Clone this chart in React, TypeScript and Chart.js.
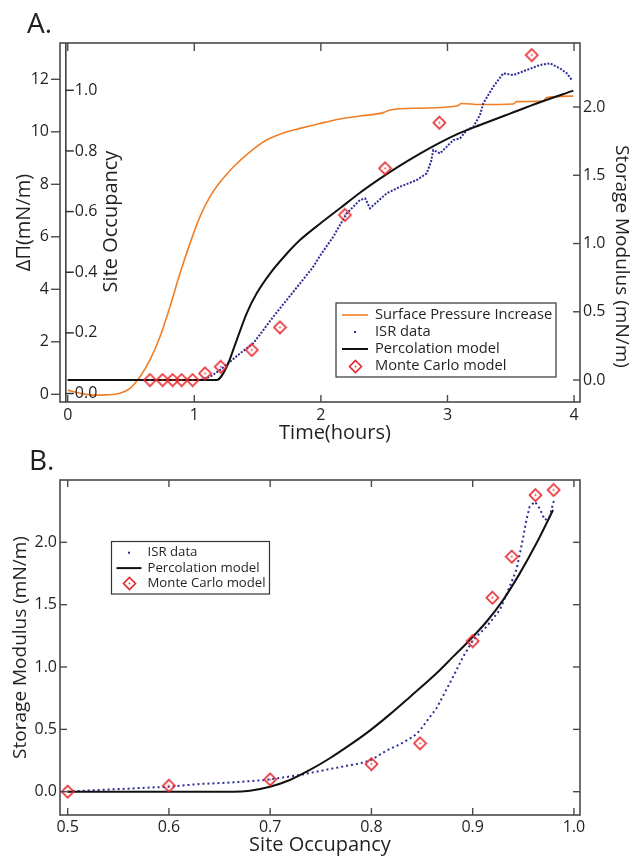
import React, { useEffect, useRef } from "react";
import { Chart, registerables } from "chart.js";
Chart.register(...registerables);

const FONT = "'Open Sans', 'DejaVu Sans', sans-serif";
const TEXT = "#231F20";

// ---------- Panel A data ----------
const timeTicks = [0, 1, 2, 3, 4];
const pressureTicks = [0, 2, 4, 6, 8, 10, 12];
const occupancyTicksA = [0, 0.2, 0.4, 0.6, 0.8, 1.0];
const modulusTicks = [0, 0.5, 1.0, 1.5, 2.0];

const pressureTime = [0, 0.1, 0.2, 0.3, 0.413, 0.492, 0.571, 0.65, 0.729, 0.808, 0.887, 0.966, 1.045, 1.124, 1.19, 1.31, 1.44, 1.57, 1.7, 1.835, 1.993, 2.151, 2.309, 2.493, 2.546, 2.783, 3.073, 3.112, 3.257, 3.52, 3.547, 3.757, 3.784, 3.994];
const pressureValue = [0.16, 0.04, -0.03, -0.02, 0.04, 0.23, 0.67, 1.31, 2.19, 3.34, 4.61, 5.75, 6.77, 7.53, 8.0, 8.67, 9.24, 9.69, 9.95, 10.13, 10.32, 10.49, 10.6, 10.73, 10.83, 10.9, 10.98, 11.08, 11.04, 11.06, 11.15, 11.17, 11.31, 11.36];

const isrTime = [0, 0.5, 1.047, 1.125, 1.203, 1.282, 1.361, 1.466, 1.545, 1.624, 1.73, 1.835, 1.94, 1.993, 2.098, 2.204, 2.309, 2.35, 2.388, 2.45, 2.52, 2.625, 2.757, 2.836, 2.87, 2.888, 2.941, 3.046, 3.099, 3.152, 3.204, 3.257, 3.283, 3.362, 3.441, 3.52, 3.626, 3.731, 3.81, 3.889, 3.942, 3.982];
const isrModulusA = [0, 0, 0, 0.024, 0.073, 0.134, 0.195, 0.269, 0.366, 0.464, 0.586, 0.708, 0.83, 0.91, 1.05, 1.221, 1.319, 1.33, 1.258, 1.31, 1.368, 1.416, 1.465, 1.514, 1.6, 1.685, 1.66, 1.758, 1.77, 1.83, 1.856, 1.941, 2.027, 2.149, 2.247, 2.234, 2.271, 2.308, 2.32, 2.283, 2.247, 2.198];

const percTime = [0, 1.177, 1.256, 1.335, 1.414, 1.493, 1.598, 1.73, 1.835, 1.993, 2.151, 2.309, 2.467, 2.625, 2.783, 2.941, 3.099, 3.257, 3.494, 3.731, 3.994];
const percModulusA = [0, 0, 0.097, 0.293, 0.489, 0.635, 0.78, 0.925, 1.025, 1.145, 1.258, 1.372, 1.475, 1.57, 1.658, 1.739, 1.81, 1.868, 1.952, 2.035, 2.12];

const mcTime = [0.65, 0.75, 0.829, 0.9, 0.987, 1.085, 1.209, 1.454, 1.677, 2.19, 2.507, 2.936, 3.666];
const mcModulusA = [0, 0, 0, 0, 0, 0.049, 0.097, 0.22, 0.386, 1.209, 1.551, 1.885, 2.381];

// ---------- Panel B data ----------
const occTicksB = [0.5, 0.6, 0.7, 0.8, 0.9, 1.0];
const modulusTicksB = [0, 0.5, 1.0, 1.5, 2.0];

const isrOcc = [0.5, 0.509, 0.545, 0.6, 0.6306, 0.645, 0.6635, 0.6964, 0.7293, 0.7622, 0.7886, 0.8, 0.8149, 0.8281, 0.8412, 0.8478, 0.8577, 0.8643, 0.8807, 0.8906, 0.9004, 0.9136, 0.9268, 0.9366, 0.9432, 0.9481, 0.9531, 0.9563, 0.9614, 0.9662, 0.9712, 0.9761, 0.9794, 0.981];
const isrModulusB = [0, 0.005, 0.019, 0.04, 0.062, 0.067, 0.075, 0.094, 0.134, 0.187, 0.227, 0.255, 0.33, 0.38, 0.44, 0.49, 0.6, 0.669, 0.922, 1.083, 1.217, 1.323, 1.457, 1.646, 1.78, 1.966, 2.18, 2.287, 2.326, 2.272, 2.179, 2.206, 2.313, 2.35];

const percOcc = [0.5, 0.6306, 0.6635, 0.68, 0.6997, 0.7195, 0.7392, 0.7589, 0.7787, 0.7984, 0.8182, 0.838, 0.8643, 0.8807, 0.8972, 0.9136, 0.93, 0.9465, 0.963, 0.9794];
const percModulusB = [0, 0, 0, 0.008, 0.04, 0.094, 0.174, 0.268, 0.375, 0.49, 0.62, 0.76, 0.95, 1.083, 1.217, 1.363, 1.537, 1.751, 1.992, 2.259];

const mcOcc = [0.5, 0.6, 0.7, 0.8, 0.848, 0.9, 0.9195, 0.9386, 0.962, 0.98];
const mcModulusB = [0, 0.048, 0.099, 0.222, 0.388, 1.208, 1.556, 1.885, 2.379, 2.42];

// ---------- helpers ----------
const pts = (xs: number[], ys: number[]) => xs.map((x, i) => ({ x, y: ys[i] }));
const setTicks = (arr: number[]) => (s: any) => {
  s.ticks = arr.map((v) => ({ value: v }));
};
const fixWidth = (w: number) => (s: any) => {
  s.width = w;
};
const fixHeight = (h: number) => (s: any) => {
  s.height = h;
};

const ORANGE = "#F07E26";
const NAVY = "#2D2E94";
const RED = "#E4252A";
const BLACK = "#111111";
const FRAME = "#4a4a4a";

// hollow diamond with a small centre dot, used as point style
function diamondMarker(): HTMLCanvasElement {
  const c = document.createElement("canvas");
  c.width = 15;
  c.height = 15;
  const g = c.getContext("2d")!;
  const m = 7.5;
  const r = 6;
  g.strokeStyle = RED;
  g.lineWidth = 1.6;
  g.beginPath();
  g.moveTo(m, m - r);
  g.lineTo(m + r, m);
  g.lineTo(m, m + r);
  g.lineTo(m - r, m);
  g.closePath();
  g.stroke();
  g.fillStyle = RED;
  g.fillRect(m - 0.8, m - 0.8, 1.6, 1.6);
  return c;
}

const decorPlugin = {
  id: "decor",
  afterDraw(chart: any, _args: any, opts: any) {
    const ctx = chart.ctx as CanvasRenderingContext2D;
    const ca = chart.chartArea;
    ctx.save();
    // frame
    ctx.strokeStyle = FRAME;
    ctx.lineWidth = 1.6;
    ctx.strokeRect(ca.left, ca.top, ca.right - ca.left, ca.bottom - ca.top);
    // tick marks
    ctx.lineWidth = 1.4;
    for (const t of opts.tickMarks || []) {
      const s = chart.scales[t.scale];
      for (const v of t.values) {
        const p = s.getPixelForValue(v);
        ctx.beginPath();
        if (t.edge === "bottom") {
          ctx.moveTo(p, ca.bottom);
          ctx.lineTo(p, ca.bottom - t.len);
        } else if (t.edge === "top") {
          ctx.moveTo(p, ca.top);
          ctx.lineTo(p, ca.top + t.len);
        } else if (t.edge === "left") {
          ctx.moveTo(ca.left, p);
          ctx.lineTo(ca.left + t.len, p);
        } else {
          ctx.moveTo(ca.right, p);
          ctx.lineTo(ca.right - t.len, p);
        }
        ctx.stroke();
      }
    }
    // inner axis (site occupancy in panel A)
    const ia = opts.innerAxis;
    if (ia) {
      const xs = chart.scales[ia.xScale];
      const ys = chart.scales[ia.scale];
      const x = xs.getPixelForValue(ia.at);
      ctx.strokeStyle = "#333";
      ctx.lineWidth = 1.5;
      ctx.beginPath();
      ctx.moveTo(x, ca.top);
      ctx.lineTo(x, ca.bottom);
      ctx.stroke();
      ctx.font = `${ia.fontSize}px ${FONT}`;
      ctx.fillStyle = TEXT;
      ctx.textAlign = "left";
      ctx.textBaseline = "middle";
      for (const v of ia.values) {
        const y = ys.getPixelForValue(v);
        ctx.beginPath();
        ctx.moveTo(x, y);
        ctx.lineTo(x + ia.tickLen, y);
        ctx.stroke();
        ctx.fillText(v.toFixed(1), x + ia.tickLen + 1, y);
      }
    }
    // texts
    for (const tx of opts.texts || []) {
      ctx.save();
      ctx.translate(tx.x, tx.y);
      ctx.rotate(tx.rot || 0);
      ctx.font = `${tx.size}px ${FONT}`;
      ctx.fillStyle = TEXT;
      ctx.textAlign = tx.align || "center";
      ctx.textBaseline = tx.baseline || "middle";
      ctx.fillText(tx.text, 0, 0);
      ctx.restore();
    }
    // legend
    const lg = opts.legend;
    if (lg) {
      ctx.fillStyle = "#ffffff";
      ctx.fillRect(lg.x, lg.y, lg.w, lg.h);
      ctx.strokeStyle = "#333";
      ctx.lineWidth = 1.2;
      ctx.strokeRect(lg.x, lg.y, lg.w, lg.h);
      ctx.font = `${lg.fontSize}px ${FONT}`;
      ctx.textAlign = "left";
      ctx.textBaseline = "middle";
      chart.data.datasets.forEach((ds: any, i: number) => {
        const y = lg.rowY + i * lg.rowStep;
        const xm = (lg.sx1 + lg.sx2) / 2;
        if (ds.pointStyle instanceof HTMLCanvasElement) {
          const img = ds.pointStyle as HTMLCanvasElement;
          ctx.drawImage(img, Math.round(xm - img.width / 2), Math.round(y - img.height / 2));
        } else if (ds.borderDash) {
          ctx.fillStyle = ds.borderColor;
          ctx.fillRect(xm - 1, y - 1, 2, 2);
        } else {
          ctx.strokeStyle = ds.borderColor;
          ctx.lineWidth = ds.borderWidth;
          ctx.beginPath();
          ctx.moveTo(lg.sx1, y);
          ctx.lineTo(lg.sx2, y);
          ctx.stroke();
        }
        ctx.fillStyle = TEXT;
        ctx.fillText(ds.label, lg.tx, y);
      });
    }
    ctx.restore();
  },
};

const tickFont = { family: FONT, size: 16 };

function configA(): any {
  return {
    type: "scatter",
    data: {
      datasets: [
        {
          label: "Surface Pressure Increase",
          data: pts(pressureTime, pressureValue),
          yAxisID: "dp",
          showLine: true,
          borderColor: ORANGE,
          backgroundColor: ORANGE,
          borderWidth: 1.6,
          pointRadius: 0,
          cubicInterpolationMode: "monotone",
          order: 3,
        },
        {
          label: "ISR data",
          data: pts(isrTime, isrModulusA),
          yAxisID: "sm",
          showLine: true,
          borderColor: NAVY,
          backgroundColor: NAVY,
          borderWidth: 2,
          borderDash: [2, 1.5],
          pointRadius: 0,
          order: 2,
        },
        {
          label: "Percolation model",
          data: pts(percTime, percModulusA),
          yAxisID: "sm",
          showLine: true,
          borderColor: BLACK,
          backgroundColor: BLACK,
          borderWidth: 2,
          pointRadius: 0,
          cubicInterpolationMode: "monotone",
          order: 1,
        },
        {
          label: "Monte Carlo model",
          data: pts(mcTime, mcModulusA),
          yAxisID: "sm",
          showLine: false,
          pointStyle: diamondMarker(),
          pointRadius: 6,
          borderColor: RED,
          backgroundColor: "rgba(0,0,0,0)",
          order: 0,
        },
      ],
    },
    options: {
      responsive: false,
      animation: false,
      devicePixelRatio: 1,
      events: [],
      layout: { padding: { left: 0, top: 43, right: 0, bottom: 0 } },
      plugins: {
        legend: { display: false },
        title: { display: false },
        tooltip: { enabled: false },
        decor: {
          tickMarks: [
            { scale: "x", edge: "bottom", len: 7, values: timeTicks },
            { scale: "x", edge: "top", len: 8, values: timeTicks },
            { scale: "dp", edge: "left", len: -9, values: pressureTicks },
            { scale: "sm", edge: "right", len: 7, values: modulusTicks },
          ],
          innerAxis: { xScale: "x", at: -0.015, scale: "occ", values: occupancyTicksA, tickLen: 8, fontSize: 16 },
          texts: [
            { text: "A.", x: 27, y: 33, size: 28, align: "left", baseline: "alphabetic" },
            { text: "Time(hours)", x: 335, y: 433, size: 20 },
            { text: "Site Occupancy", x: 111.5, y: 221.5, size: 20, rot: -Math.PI / 2 },
            { text: "Storage Modulus (mN/m)", x: 621, y: 256.5, size: 19, rot: Math.PI / 2 },
          ],
          legend: { x: 336, y: 303, w: 220, h: 74, rowY: 315, rowStep: 17, sx1: 342, sx2: 368, tx: 375, fontSize: 14.7 },
        },
      },
      scales: {
        x: {
          type: "linear",
          axis: "x",
          position: "bottom",
          min: -0.061,
          max: 4.047,
          afterBuildTicks: setTicks(timeTicks),
          afterFit: fixHeight(44),
          grid: { display: false, drawTicks: false },
          border: { display: false },
          ticks: { font: tickFont, color: TEXT, padding: 4, autoSkip: false, maxRotation: 0, callback: (v: number) => String(v) },
        },
        dp: {
          type: "linear",
          axis: "y",
          position: "left",
          min: -0.293,
          max: 13.383,
          afterBuildTicks: setTicks(pressureTicks),
          afterFit: fixWidth(60),
          grid: { display: false, drawTicks: false },
          border: { display: false },
          ticks: { font: tickFont, color: TEXT, padding: 11, callback: (v: number) => String(v) },
          title: { display: true, text: "ΔΠ(mN/m)", font: { family: FONT, size: 20 }, color: TEXT, padding: { top: 12, bottom: 0 } },
        },
        occ: {
          type: "linear",
          axis: "y",
          position: "left",
          display: false,
          min: -0.028,
          max: 1.156,
        },
        sm: {
          type: "linear",
          axis: "y",
          position: "right",
          min: -0.161,
          max: 2.469,
          afterBuildTicks: setTicks(modulusTicks),
          afterFit: fixWidth(53),
          grid: { display: false, drawTicks: false },
          border: { display: false },
          ticks: { font: tickFont, color: TEXT, padding: 3, callback: (v: number) => v.toFixed(1) },
        },
      },
    },
    plugins: [decorPlugin],
  };
}

function configB(): any {
  return {
    type: "scatter",
    data: {
      datasets: [
        {
          label: "ISR data",
          data: pts(isrOcc, isrModulusB),
          showLine: true,
          borderColor: NAVY,
          backgroundColor: NAVY,
          borderWidth: 2,
          borderDash: [2, 3],
          pointRadius: 0,
          order: 2,
        },
        {
          label: "Percolation model",
          data: pts(percOcc, percModulusB),
          showLine: true,
          borderColor: BLACK,
          backgroundColor: BLACK,
          borderWidth: 2,
          pointRadius: 0,
          cubicInterpolationMode: "monotone",
          order: 1,
        },
        {
          label: "Monte Carlo model",
          data: pts(mcOcc, mcModulusB),
          showLine: false,
          pointStyle: diamondMarker(),
          pointRadius: 6,
          borderColor: RED,
          backgroundColor: "rgba(0,0,0,0)",
          order: 0,
        },
      ],
    },
    options: {
      responsive: false,
      animation: false,
      devicePixelRatio: 1,
      events: [],
      layout: { padding: { left: 0, top: 34, right: 53, bottom: 0 } },
      plugins: {
        legend: { display: false },
        title: { display: false },
        tooltip: { enabled: false },
        decor: {
          tickMarks: [
            { scale: "x", edge: "bottom", len: 7, values: occTicksB },
            { scale: "x", edge: "top", len: 7, values: occTicksB },
            { scale: "y", edge: "left", len: 7, values: modulusTicksB },
            { scale: "y", edge: "right", len: 7, values: modulusTicksB },
          ],
          texts: [{ text: "B.", x: 29, y: 24, size: 28, align: "left", baseline: "alphabetic" }],
          legend: { x: 111.5, y: 95.5, w: 158, h: 52.5, rowY: 106.7, rowStep: 15.4, sx1: 116.5, sx2: 141.5, tx: 147.5, fontSize: 13.2 },
        },
      },
      scales: {
        x: {
          type: "linear",
          axis: "x",
          position: "bottom",
          min: 0.4924,
          max: 1.006,
          afterBuildTicks: setTicks(occTicksB),
          afterFit: fixHeight(42),
          grid: { display: false, drawTicks: false },
          border: { display: false },
          ticks: { font: tickFont, color: TEXT, padding: 3, autoSkip: false, maxRotation: 0, callback: (v: number) => v.toFixed(1) },
          title: { display: true, text: "Site Occupancy", font: { family: FONT, size: 20 }, color: TEXT, padding: { top: 0, bottom: 0 } },
        },
        y: {
          type: "linear",
          axis: "y",
          position: "left",
          min: -0.187,
          max: 2.5,
          afterBuildTicks: setTicks(modulusTicksB),
          afterFit: fixWidth(60),
          grid: { display: false, drawTicks: false },
          border: { display: false },
          ticks: { font: tickFont, color: TEXT, padding: 3, callback: (v: number) => v.toFixed(1) },
          title: { display: true, text: "Storage Modulus (mN/m)", font: { family: FONT, size: 19 }, color: TEXT, padding: { top: 9, bottom: 0 } },
        },
      },
    },
    plugins: [decorPlugin],
  };
}

function Panel(props: { make: () => any; width: number; height: number; top: number }) {
  const ref = useRef<HTMLCanvasElement | null>(null);
  useEffect(() => {
    if (!ref.current) return;
    const chart = new Chart(ref.current, props.make());
    return () => chart.destroy();
  }, []);
  return (
    <canvas
      ref={ref}
      width={props.width}
      height={props.height}
      style={{ position: "absolute", left: 0, top: props.top, width: props.width, height: props.height, display: "block" }}
    />
  );
}

export default function App() {
  return (
    <div style={{ position: "absolute", left: 0, top: 0, width: 633, height: 857, background: "#ffffff", overflow: "hidden" }}>
      <Panel make={configA} width={633} height={446} top={0} />
      <Panel make={configB} width={633} height={411} top={446} />
    </div>
  );
}
